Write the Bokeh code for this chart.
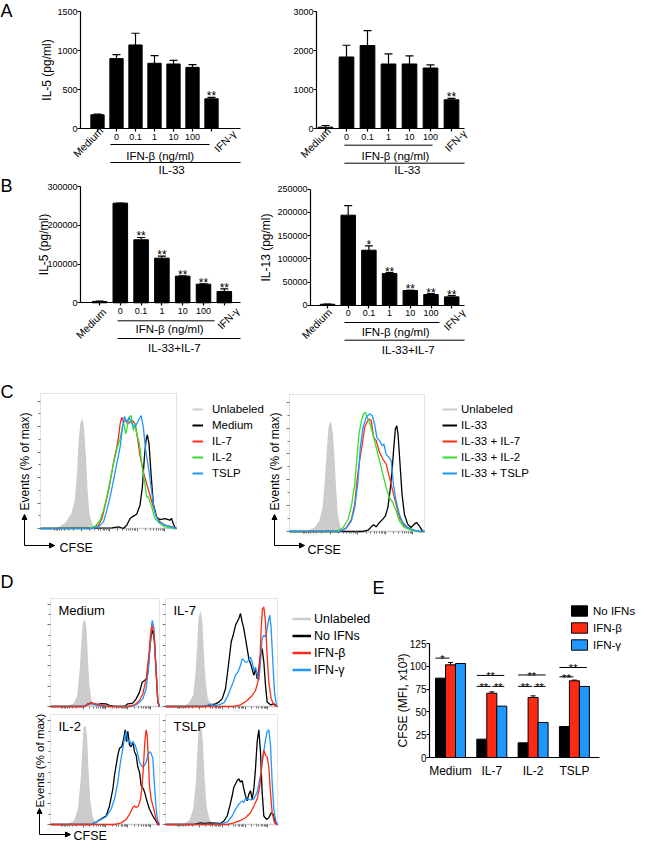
import math
from bokeh.plotting import figure
from bokeh.models import (Label, ColumnDataSource, FixedTicker, Whisker, TeeHead, BoxAnnotation,
                          Arrow, NormalHead, Legend, LegendItem, Range1d, NumeralTickFormatter)
from bokeh.layouts import row, column
from bokeh.embed import file_html
from bokeh.resources import INLINE
from bokeh.core.properties import value

FONT = "Liberation Sans"
RED = "#FF2A14"
GREEN = "#2FE02F"
BLUE = "#1E97FF"
GRAY = "#CCCCCC"
FRAME = "#A3A3A3"
TICK = "#6E6E6E"

# ---------------- data ----------------
conditions = ["Medium", "0", "0.1", "1", "10", "100", "IFN-γ"]

a1_il5 = [176, 896, 1071, 836, 827, 784, 381]
a1_err = [8, 51, 150, 98, 47, 35, 18]
a1_sig = ["", "", "", "", "", "", "**"]

a2_il5 = [34, 1834, 2126, 1654, 1654, 1551, 737]
a2_err = [43, 300, 385, 257, 206, 78, 34]
a2_sig = ["", "", "", "", "", "", "**"]

b1_il5 = [3400, 257000, 162500, 115200, 68800, 48100, 29200]
b1_err = [1000, 0, 6000, 5200, 800, 600, 6900]
b1_sig = ["", "", "**", "**", "**", "**", "**"]

b2_il13 = [2000, 194000, 118500, 68200, 31600, 23000, 18000]
b2_err = [500, 20800, 9400, 2200, 700, 2100, 2800]
b2_sig = ["", "", "*", "**", "**", "**", "**"]

# flow histograms: (CFSE channel, % of max)
C1_UNL = [(0, 0), (125, 0), (188, 3.9), (238, 11.7), (263, 22.2), (280, 43.1), (293, 69.2), (305, 82.2), (313, 85.3), (325, 77.0), (338, 56.1), (350, 30.0), (363, 11.7), (388, 2.6), (413, 0), (1025, 0)]
C1_MED = [(0, 0), (538, 0.5), (588, 1.3), (625, 0), (650, 2.6), (675, 7.8), (700, 9.7), (725, 11.2), (750, 18.3), (768, 32.6), (783, 56.1), (795, 69.2), (805, 73.6), (818, 66.6), (833, 43.1), (850, 19.6), (875, 9.1), (900, 7.0), (938, 7.8), (975, 6.5), (988, 7.8), (1000, 3.9), (1013, 0.8), (1025, 0)]
C1_IL7 = [(0, 0), (388, 0), (438, 2.6), (463, 7.8), (488, 18.3), (513, 30.0), (538, 44.4), (558, 56.1), (575, 63.9), (588, 71.8), (600, 82.2), (613, 87.4), (625, 83.5), (643, 84.8), (658, 82.2), (675, 83.5), (693, 84.8), (713, 82.2), (730, 71.8), (750, 57.4), (775, 44.4), (800, 35.2), (825, 26.1), (850, 17.0), (875, 9.1), (900, 5.2), (938, 2.6), (988, 1.3), (1018, 0), (1025, 0)]
C1_IL2 = [(0, 0), (363, 0), (413, 1.8), (450, 6.5), (475, 14.4), (500, 24.8), (525, 37.8), (550, 50.9), (575, 62.6), (600, 70.5), (625, 83.5), (643, 74.4), (658, 82.2), (668, 87.4), (683, 88.7), (700, 77.0), (713, 82.2), (725, 74.4), (745, 66.6), (763, 50.9), (783, 37.8), (800, 24.8), (813, 24.8), (838, 17.0), (863, 7.8), (900, 3.9), (938, 1.3), (1013, 0), (1025, 0)]
C1_TSLP = [(0, 0), (388, 0), (438, 1.3), (475, 5.2), (500, 14.4), (525, 24.8), (550, 37.8), (575, 50.9), (600, 63.9), (618, 79.6), (633, 88.0), (650, 83.5), (668, 87.4), (688, 82.2), (713, 79.6), (738, 84.8), (758, 88.7), (775, 79.6), (793, 61.3), (813, 48.3), (833, 32.6), (850, 19.6), (868, 10.4), (893, 5.2), (938, 2.6), (988, 1.3), (1018, 0), (1025, 0)]

C2_UNL = [(0, 0), (130, 0), (193, 2.6), (230, 8.3), (255, 18.6), (275, 44.4), (288, 65.1), (300, 80.6), (310, 84.5), (323, 75.5), (335, 57.4), (348, 31.5), (360, 13.4), (380, 3.1), (405, 0), (1020, 0)]
C2_IL33 = [(0, 0), (555, 0), (593, 1.0), (618, 3.6), (635, 5.2), (655, 3.6), (680, 7.0), (705, 9.6), (725, 12.1), (743, 18.6), (760, 31.5), (775, 47.0), (788, 65.1), (800, 79.3), (810, 81.9), (820, 75.5), (835, 52.2), (850, 29.0), (868, 13.4), (893, 5.7), (918, 3.1), (943, 5.7), (960, 7.0), (980, 4.4), (1005, 0.5), (1020, 0)]
C2_IL7 = [(0, 0), (380, 0), (430, 3.1), (468, 9.5), (493, 21.2), (510, 39.3), (530, 54.8), (550, 67.7), (568, 80.6), (585, 84.5), (600, 87.1), (618, 85.8), (635, 72.9), (655, 70.3), (680, 61.3), (705, 56.1), (730, 52.2), (755, 41.9), (780, 31.5), (805, 21.2), (830, 10.9), (868, 4.4), (930, 1.0), (980, 0), (1020, 0)]
C2_IL2 = [(0, 0), (355, 0), (405, 3.1), (443, 9.5), (468, 19.9), (493, 36.7), (510, 57.4), (525, 75.5), (543, 85.8), (560, 91.0), (573, 92.3), (585, 88.4), (605, 84.5), (630, 75.5), (655, 65.1), (680, 54.8), (705, 44.4), (730, 34.1), (755, 26.4), (780, 22.5), (805, 16.0), (830, 8.3), (868, 3.1), (918, 1.0), (980, 0), (1020, 0)]
C2_TSLP = [(0, 0), (380, 0), (430, 2.6), (468, 8.3), (493, 18.6), (518, 39.3), (535, 65.1), (555, 80.6), (580, 88.4), (605, 91.0), (625, 89.7), (643, 83.2), (660, 72.9), (680, 70.3), (700, 66.4), (713, 67.7), (730, 59.9), (750, 57.4), (768, 54.8), (785, 36.7), (805, 23.8), (830, 13.4), (855, 7.0), (893, 3.1), (943, 1.0), (993, 0), (1020, 0)]

DM_UNL = [(0, 0), (156, 0), (216, 2.6), (246, 10.8), (267, 33.5), (282, 59.7), (294, 79.4), (306, 84.6), (318, 76.4), (330, 50.2), (342, 23.9), (360, 7.5), (381, 1.6), (411, 0), (981, 0)]
DM_NO = [(0, 0), (306, 0), (336, 2.6), (366, 3.6), (411, 1.6), (456, 2.9), (501, 2.6), (531, 1.0), (576, 0), (666, 0), (696, 2.6), (741, 3.3), (771, 7.5), (801, 14.1), (825, 23.9), (846, 25.6), (864, 27.2), (876, 33.8), (891, 53.5), (906, 69.9), (921, 74.8), (936, 63.3), (951, 33.8), (966, 4.3), (981, 0)]
DM_B = [(0, 0), (306, 0), (336, 1.6), (366, 3.6), (411, 2.6), (456, 1.0), (516, 0), (696, 0), (756, 1.6), (801, 5.9), (831, 12.5), (861, 27.2), (885, 50.2), (900, 69.9), (912, 79.7), (930, 73.2), (951, 33.8), (966, 4.3), (981, 0)]
DM_G = [(0, 0), (306, 0), (336, 2.3), (381, 2.9), (426, 1.0), (516, 0), (726, 0), (786, 2.6), (831, 7.5), (861, 17.4), (882, 37.1), (900, 66.6), (915, 84.6), (930, 78.1), (945, 46.9), (966, 5.9), (981, 0)]

D7_UNL = [(0, 0), (165, 0), (210, 2.6), (255, 10.8), (276, 33.5), (291, 59.7), (303, 85.9), (315, 92.5), (327, 82.7), (339, 53.1), (354, 26.9), (375, 7.5), (405, 1.0), (435, 0), (1008, 0)]
D7_NO = [(0, 0), (345, 0), (405, 1.6), (450, 2.6), (480, 4.3), (510, 7.5), (540, 17.4), (570, 43.6), (591, 63.3), (609, 69.9), (630, 79.7), (660, 86.3), (675, 91.2), (690, 83.0), (705, 76.4), (720, 66.6), (735, 56.8), (750, 46.9), (771, 40.3), (795, 30.5), (810, 37.1), (825, 27.2), (840, 37.1), (855, 50.2), (870, 56.8), (885, 43.6), (900, 20.7), (915, 4.3), (945, 1.6), (975, 2.6), (1005, 0), (1008, 0)]
D7_G = [(0, 0), (345, 0), (375, 1.0), (405, 2.6), (435, 1.0), (480, 1.6), (525, 3.6), (555, 9.2), (585, 17.4), (609, 23.9), (630, 30.5), (651, 33.8), (675, 40.3), (690, 46.9), (705, 45.3), (720, 43.6), (735, 43.6), (750, 45.3), (765, 48.5), (780, 43.6), (795, 35.4), (810, 38.7), (825, 30.5), (840, 25.6), (855, 43.6), (870, 66.6), (885, 69.9), (900, 68.2), (915, 76.4), (930, 86.3), (939, 89.5), (951, 76.4), (966, 43.6), (981, 14.1), (999, 1.0), (1008, 0)]
D7_B = [(0, 0), (615, 0), (675, 1.6), (735, 5.9), (780, 10.8), (810, 15.7), (831, 23.9), (849, 43.6), (861, 76.4), (873, 96.1), (885, 97.7), (900, 83.0), (915, 50.2), (930, 23.9), (951, 7.5), (975, 1.6), (1005, 0), (1008, 0)]

D2_UNL = [(0, 0), (156, 0), (216, 3.3), (252, 14.7), (276, 40.8), (291, 70.1), (303, 92.9), (312, 94.5), (324, 83.1), (336, 53.8), (351, 24.5), (372, 8.2), (396, 1.6), (426, 0), (981, 0)]
D2_NO = [(0, 0), (366, 0), (426, 3.3), (471, 6.5), (501, 8.2), (531, 17.9), (561, 34.2), (576, 47.3), (591, 57.1), (606, 66.8), (621, 73.4), (642, 75.0), (660, 83.1), (672, 91.3), (684, 79.9), (696, 89.7), (711, 76.6), (726, 75.0), (741, 79.9), (756, 70.1), (771, 66.8), (786, 55.4), (801, 50.5), (816, 37.5), (837, 34.2), (852, 29.3), (867, 22.8), (891, 14.7), (921, 8.2), (951, 3.3), (966, 0), (981, 0)]
D2_G = [(0, 0), (366, 0), (411, 2.3), (456, 4.9), (501, 7.5), (546, 14.7), (576, 24.5), (606, 40.8), (630, 60.3), (651, 73.4), (666, 83.1), (681, 89.7), (696, 79.9), (711, 81.5), (726, 76.6), (741, 79.9), (762, 76.6), (780, 70.1), (801, 60.3), (816, 57.1), (831, 55.4), (846, 57.1), (861, 60.3), (876, 66.8), (891, 70.1), (906, 68.5), (921, 63.6), (936, 37.5), (951, 14.7), (966, 3.3), (981, 0)]
D2_B = [(0, 0), (576, 0), (636, 1.6), (681, 4.9), (711, 9.8), (741, 16.3), (756, 17.9), (771, 16.3), (792, 17.9), (810, 24.5), (825, 37.5), (837, 57.1), (849, 79.9), (861, 91.3), (870, 86.1), (882, 60.3), (891, 37.5), (906, 24.5), (930, 14.7), (951, 4.9), (972, 0), (981, 0)]

DT_UNL = [(0, 0), (165, 0), (219, 3.3), (255, 14.7), (279, 40.8), (294, 73.4), (306, 92.9), (318, 94.5), (330, 79.9), (345, 47.3), (363, 17.9), (390, 4.9), (420, 0), (1008, 0)]
DT_NO = [(0, 0), (255, 0), (315, 1.6), (345, 1.0), (405, 1.6), (495, 1.0), (525, 3.3), (555, 8.2), (579, 17.9), (600, 27.7), (615, 35.9), (630, 39.1), (645, 42.4), (660, 44.0), (675, 40.8), (690, 42.4), (705, 34.2), (720, 27.7), (735, 22.8), (750, 29.3), (765, 32.6), (780, 24.5), (795, 34.2), (810, 53.8), (825, 79.9), (840, 91.3), (855, 70.1), (870, 31.0), (885, 8.2), (909, 4.9), (930, 6.5), (951, 11.4), (969, 9.8), (984, 3.3), (1005, 0), (1008, 0)]
DT_G = [(0, 0), (435, 0), (495, 0.7), (555, 2.3), (600, 8.2), (630, 14.7), (660, 19.6), (690, 22.8), (705, 21.2), (720, 25.1), (735, 24.5), (765, 23.8), (795, 24.5), (825, 31.0), (855, 47.3), (879, 66.8), (900, 81.5), (915, 89.7), (930, 91.3), (945, 76.6), (960, 40.8), (975, 14.7), (993, 3.3), (1005, 0), (1008, 0)]
DT_B = [(0, 0), (555, 0), (615, 1.6), (675, 3.9), (720, 6.5), (765, 11.4), (795, 17.9), (825, 24.5), (849, 37.5), (870, 60.3), (885, 71.7), (900, 66.8), (915, 65.2), (930, 55.4), (945, 30.5), (960, 11.4), (981, 1.6), (999, 0), (1008, 0)]

e_groups = ["Medium", "IL-7", "IL-2", "TSLP"]
e_series = ["No IFNs", "IFN-β", "IFN-γ"]
e_no_ifn = [87.0, 20.1, 16.1, 34.0]
e_ifnb = [101.6, 70.5, 65.8, 84.1]
e_ifnb_err = [2.6, 1.5, 1.8, 0.8]
e_ifng = [103.1, 56.3, 38.4, 77.9]
# (group, from bar, to bar, level, label)
e_brackets = [(0, 0, 1, 109, "*"), (1, 0, 2, 90, "**"), (1, 0, 1, 78, "**"), (1, 1, 2, 78, "**"),
              (2, 0, 2, 90.5, "**"), (2, 0, 1, 78, "**"), (2, 1, 2, 78, "**"),
              (3, 0, 2, 98.7, "**"), (3, 0, 1, 88.5, "**")]


# ---------------- helpers ----------------
# Every figure's plotting frame fills the whole figure; axes are pinned with
# fixed_location so that texts and annotations around the axes stay visible.
def make_fig(W, H, xr, yr):
    p = figure(width=W, height=H, x_range=Range1d(*xr), y_range=Range1d(*yr),
               min_border=0, min_border_left=0, min_border_right=0, min_border_top=0,
               min_border_bottom=0, output_backend="svg", toolbar_location=None, title=None)
    p.grid.visible = False
    p.outline_line_color = None
    p.background_fill_color = "white"
    p.border_fill_color = "white"
    return p


def lab(p, text, x, y, size="11.5px", align="center", base="middle", angle=0.0, units="screen"):
    p.add_layout(Label(x=x, y=y, x_units=units, y_units=units, text=text, text_font=FONT,
                       text_font_size=size, text_align=align, text_baseline=base, angle=angle,
                       text_color="black"))


def axis_style(ax, size="9px"):
    ax.major_tick_out = 3
    ax.major_tick_in = 0
    ax.minor_tick_out = 0
    ax.minor_tick_in = 0
    ax.axis_line_width = 1.2
    ax.major_tick_line_width = 1.2
    ax.major_label_text_font = FONT
    ax.major_label_text_font_size = size
    ax.major_label_text_color = "black"
    ax.major_label_standoff = 2
    ax.axis_label_text_font = FONT
    ax.axis_label_text_font_size = "12px"
    ax.axis_label_text_font_style = "normal"
    ax.axis_label_text_color = "black"


def bar_panel(W, H, u0, sx, v0, vtop, ymax, ystep, yaxis_u, xend_u, vals, errs, sig,
              ylabel, ylab_standoff, glabel, g, letter=None):
    sy = (v0 - vtop) / ymax
    p = make_fig(W, H, ((0 - u0) / sx, (W - u0) / sx), ((v0 - H) / sy, v0 / sy))
    x_start = (yaxis_u - u0) / sx
    x_end = (xend_u - u0) / sx

    def below(px):
        return -px / sy

    idx = list(range(len(conditions)))
    last = idx[-1]
    src = ColumnDataSource(dict(x=idx, top=vals, upper=[v + e for v, e in zip(vals, errs)], sig=sig))
    p.vbar(x="x", top="top", width=0.7, source=src, fill_color="black", line_color="black")
    p.add_layout(Whisker(source=src, base="x", lower="top", upper="upper", dimension="height",
                         lower_head=None,
                         upper_head=TeeHead(size=8, line_width=1.2, line_color="black"),
                         line_width=1.2, line_color="black"))
    p.text(x="x", y="upper", text="sig", source=src, text_align="center", text_baseline="alphabetic",
           y_offset=-1, text_font=value(FONT), text_font_size="12px", text_color="black")
    ya = p.yaxis[0]
    axis_style(ya)
    ya.major_label_standoff = 0
    ya.fixed_location = x_start
    ya.bounds = (0, ymax)
    ya.ticker = FixedTicker(ticks=list(range(0, ymax + 1, ystep)), minor_ticks=[])
    ya.formatter = NumeralTickFormatter(format="0")
    ya.axis_label = ylabel
    ya.axis_label_standoff = ylab_standoff
    xa = p.xaxis[0]
    axis_style(xa)
    xa.fixed_location = 0
    xa.bounds = (x_start, x_end)
    xa.ticker = FixedTicker(ticks=idx, minor_ticks=[])
    xa.major_label_overrides = {i: (conditions[i] if 0 < i < last else "") for i in idx}
    # rotated end labels
    lab(p, conditions[0], 0 + g["med"][0], below(g["med"][1]), size="10.5px", angle=math.pi / 4, units="data")
    lab(p, conditions[last], last + g["ifng"][0], below(g["ifng"][1]), size="10.5px", angle=math.pi / 4,
        units="data")
    # group brackets
    for key in ("l1", "l2"):
        a, b, d = g[key]
        p.segment(x0=[a], y0=[below(d)], x1=[b], y1=[below(d)], line_color="black", line_width=1)
    lab(p, "IFN-β (ng/ml)", g["t1"][0], below(g["t1"][1]), units="data")
    lab(p, glabel, g["t2"][0], below(g["t2"][1]), units="data")
    if letter:
        lab(p, letter, 0, H, size="18px", align="left", base="top")
    return p


def log_ticks(xmax):
    d = 0.205 * xmax
    majors = [round((0.30 + 0.205 * k) * xmax) for k in range(4)]
    minors = []
    for m in majors[:3]:
        minors += [round(m + d * math.log10(j)) for j in range(2, 10)]
    minors += [round(majors[0] - d * math.log10(j)) for j in range(2, 10)]
    return majors, minors


def flow_panel(W, H, box, xmax, curves, ymax=106):
    bl, bt, br, bb = box
    sx = (br - bl) / xmax
    sy = (bb - bt) / ymax
    p = make_fig(W, H, ((0 - bl) / sx, (W - bl) / sx), ((bb - H) / sy, bb / sy))
    p.add_layout(BoxAnnotation(left=0, right=xmax, bottom=0, top=ymax, fill_alpha=0,
                               line_color=FRAME, line_width=1, level="underlay"))
    mj, mn = log_ticks(xmax)
    yt = [0, 20, 40, 60, 80, 100]
    for ax, ticks, minor in ((p.xaxis[0], mj, mn), (p.yaxis[0], yt, [10, 30, 50, 70, 90])):
        ax.fixed_location = 0
        ax.axis_line_color = None
        ax.major_tick_line_color = TICK
        ax.minor_tick_line_color = TICK
        ax.major_tick_out = 3
        ax.major_tick_in = 0
        ax.minor_tick_out = 2
        ax.minor_tick_in = 0
        ax.ticker = FixedTicker(ticks=ticks, minor_ticks=minor)
        ax.major_label_overrides = {t: "" for t in ticks}
    p.xaxis[0].bounds = (0, xmax)
    p.yaxis[0].bounds = (0, ymax)
    for xy, color, fill in curves:
        xs = [a for a, _ in xy]
        ys = [c for _, c in xy]
        if fill:
            p.varea(x=xs, y1=0, y2=ys, fill_color=GRAY)
        p.line(xs, ys, line_color=color, line_width=1.3)
    return p


def legend_lines(p, entries, loc, gw, gh, standoff, size, lw):
    items = []
    for label, color in entries:
        r = p.line([float("nan")], [float("nan")], line_color=color, line_width=lw)
        items.append(LegendItem(label=label, renderers=[r]))
    p.add_layout(Legend(items=items, location=loc, glyph_width=gw, glyph_height=gh, label_height=gh,
                        label_standoff=standoff, spacing=0, padding=0, margin=0,
                        border_line_alpha=0, background_fill_alpha=0, label_text_color="black",
                        label_text_font=FONT, label_text_font_size=size))


def arrow_axes(p, H, cu, cv, up_v, right_u, ev_v, cf_u, cf_v, ev_size="12px"):
    for ue, ve in ((cu, up_v), (right_u, cv)):
        p.add_layout(Arrow(x_start=cu, y_start=H - cv, x_end=ue, y_end=H - ve, start_units="screen",
                           end_units="screen", line_color="black", line_width=1,
                           end=NormalHead(size=5, fill_color="black", line_color="black", line_width=1)))
    lab(p, "Events (% of max)", cu, H - ev_v, size=ev_size, align="left", base="middle", angle=math.pi / 2)
    lab(p, "CFSE", cf_u, H - cf_v, size="12.5px", align="left", base="middle")


# ---------------- panel A (row 1, height 175) ----------------
gA1 = dict(med=(-0.5, 13.5), ifng=(0.71, 12.5), l1=(0.68, 5.9, 16), t1=(3.3, 27),
           l2=(0.68, 7.53, 34), t2=(3.9, 41))
gA2 = dict(med=(-0.48, 14), ifng=(0.19, 12), l1=(0.9, 5.1, 16.7), t1=(3.33, 27),
           l2=(0.9, 6.62, 34.7), t2=(3.9, 41))
A1 = bar_panel(262, 175, 97, 19, 128, 11, 1500, 500, 80, 240, a1_il5, a1_err, a1_sig,
               "IL-5 (pg/ml)", 0, "IL-33", gA1, letter="A")
A2 = bar_panel(376, 175, 63, 21, 128, 11, 3000, 1000, 54, 202, a2_il5, a2_err, a2_sig,
               None, 8, "IL-33", gA2)

# ---------------- panel B (row 2, height 200) ----------------
gB1 = dict(med=(-0.41, 20.5), ifng=(0.19, 15.4), l1=(0.87, 5.53, 18), t1=(3.37, 26.4),
           l2=(0.87, 6.78, 35.7), t2=(3.6, 44.7))
gB2 = dict(med=(-0.53, 18.3), ifng=(0.13, 14.3), l1=(0.82, 5.41, 17.3), t1=(3.29, 26.3),
           l2=(0.82, 6.62, 35), t2=(3.9, 45))
B1 = bar_panel(249, 200, 99, 20.8, 127.3, 11, 300000, 100000, 80, 240, b1_il5, b1_err, b1_sig,
               "IL-5 (pg/ml)", -7, "IL-33+IL-7", gB1, letter="B")
B2 = bar_panel(389, 200, 78, 20.7, 129.7, 13.7, 250000, 50000, 61, 215, b2_il13, b2_err, b2_sig,
               "IL-13 (pg/ml)", 1, "IL-33+IL-7", gB2)

# ---------------- panel C (row 3, height 191) ----------------
C1 = flow_panel(266, 191, (40, 18, 176, 153), 1025,
                [(C1_UNL, GRAY, True), (C1_MED, "black", False), (C1_IL7, RED, False),
                 (C1_IL2, GREEN, False), (C1_TSLP, BLUE, False)])
legend_lines(C1, [("Unlabeled", GRAY), ("Medium", "black"), ("IL-7", RED), ("IL-2", GREEN), ("TSLP", BLUE)],
             (192, 85), 11, 16, 9, "11.5px", 2)
arrow_axes(C1, 191, 24, 170, 139, 54, 135, 59, 172)
lab(C1, "C", 0, 191 - 6.6, size="18px", align="left", base="top")

C2 = flow_panel(372, 191, (23, 19, 158, 156), 1020,
                [(C2_UNL, GRAY, True), (C2_IL33, "black", False), (C2_IL7, RED, False),
                 (C2_IL2, GREEN, False), (C2_TSLP, BLUE, False)])
legend_lines(C2, [("Unlabeled", GRAY), ("IL-33", "black"), ("IL-33 + IL-7", RED), ("IL-33 + IL-2", GREEN),
                  ("IL-33 + TSLP", BLUE)], (176, 85), 15, 16, 4, "11.5px", 2)
arrow_axes(C2, 191, 8, 170, 139, 38, 135, 41, 174)


# ---------------- panel D (row 4, height 275) ----------------
def d_panel(W, H, box, xmax, unl, no, g, b, title):
    p = flow_panel(W, H, box, xmax, [(unl, GRAY, True), (no, "black", False), (g, BLUE, False), (b, RED, False)])
    lab(p, title, box[0] + 8, H - box[1] - 4, size="13px", align="left", base="top")
    return p


D1 = d_panel(162, 144, (50, 32, 159, 140), 981, DM_UNL, DM_NO, DM_G, DM_B, "Medium")
D2 = d_panel(210, 144, (3, 32, 115, 140), 1008, D7_UNL, D7_NO, D7_G, D7_B, "IL-7")
D3 = d_panel(162, 131, (50, 4, 159, 114), 981, D2_UNL, D2_NO, D2_G, D2_B, "IL-2")
D4 = d_panel(210, 131, (3, 4, 115, 114), 1008, DT_UNL, DT_NO, DT_G, DT_B, "TSLP")
lab(D1, "D", 0, 144 - 5.6, size="18px", align="left", base="top")
legend_lines(D2, [("Unlabeled", GRAY), ("No IFNs", "black"), ("IFN-β", RED), ("IFN-γ", BLUE)],
             (130, 32), 19, 17, 3, "12.5px", 2.5)
arrow_axes(D3, 131, 39, 124, 98, 70, 97, 73, 125, ev_size="11.5px")

# ---------------- panel E ----------------
EW, EH = 266, 275
e_u0, e_sx, e_v0, e_vtop = 78, 41.3, 191, 77
e_sy = (e_v0 - e_vtop) / 125
E = make_fig(EW, EH, ((0 - e_u0) / e_sx, (EW - e_u0) / e_sx), ((e_v0 - EH) / e_sy, e_v0 / e_sy))
gx = list(range(len(e_groups)))
bw = 0.242
rends = []
for k, (vals, color) in enumerate([(e_no_ifn, "black"), (e_ifnb, RED), (e_ifng, BLUE)]):
    xs = [gg + (k - 1) * bw for gg in gx]
    r = E.vbar(x=xs, top=vals, width=bw, fill_color=color, line_color="black", line_width=1)
    rends.append(r)
esrc = ColumnDataSource(dict(x=gx, lo=e_ifnb, hi=[v + e for v, e in zip(e_ifnb, e_ifnb_err)]))
E.add_layout(Whisker(source=esrc, base="x", lower="lo", upper="hi", lower_head=None,
                     upper_head=TeeHead(size=5, line_width=1, line_color="black"),
                     line_width=1, line_color="black"))
for gg, i, j, yv, star in e_brackets:
    xi = gg + (i - 1) * bw
    xj = gg + (j - 1) * bw
    x0 = xi - 0.5 * bw if i == 0 else xi + 0.05 * bw
    x1 = xj + 0.25 * bw if j == 2 else xj - 0.1 * bw
    E.segment(x0=[x0], y0=[yv], x1=[x1], y1=[yv], line_color="black", line_width=1)
    E.text(x=[(x0 + x1) / 2], y=[yv], text=[star], text_align="center", text_baseline="alphabetic",
           y_offset=1, text_font=value(FONT), text_font_size="11px", text_color="black")
e_xstart = (57 - e_u0) / e_sx
e_xend = (227 - e_u0) / e_sx
eya = E.yaxis[0]
axis_style(eya, "10px")
eya.major_label_standoff = 0
eya.fixed_location = e_xstart
eya.bounds = (0, 125)
eya.ticker = FixedTicker(ticks=list(range(0, 126, 25)), minor_ticks=[])
eya.axis_label = "CFSE (MFI, x10³)"
eya.axis_label_standoff = -3
exa = E.xaxis[0]
axis_style(exa, "12px")
exa.fixed_location = 0
exa.bounds = (e_xstart, e_xend)
exa.ticker = FixedTicker(ticks=gx, minor_ticks=[])
exa.major_label_overrides = {i: e_groups[i] for i in gx}
exa.major_tick_line_color = None
exa.major_tick_out = 0
exa.major_label_standoff = 6
E.add_layout(Legend(items=[LegendItem(label=n, renderers=[r]) for n, r in zip(e_series, rends)],
                    location=(197, 188), glyph_width=20, glyph_height=13, label_height=17,
                    label_standoff=4, spacing=0, padding=0, margin=0, border_line_alpha=0,
                    background_fill_alpha=0, label_text_color="black",
                    label_text_font=FONT, label_text_font_size="11.5px"))
lab(E, "E", 0, EH - 11.6, size="18px", align="left", base="top")

layout = column(row(A1, A2), row(B1, B2), row(C1, C2),
                row(column(row(D1, D2), row(D3, D4)), E))

open("out.html", "w").write(file_html(layout, INLINE))
